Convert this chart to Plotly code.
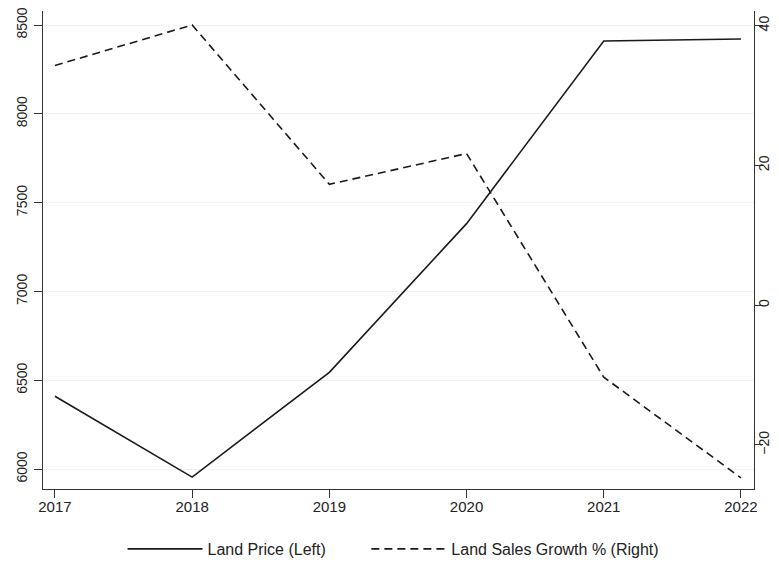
import plotly.graph_objects as go

years = [2017, 2018, 2019, 2020, 2021, 2022]
land_price = [6410, 5955, 6545, 7382, 8410, 8421]
sales_growth = [34.3, 40.1, 17.3, 21.7, -10.3, -24.7]
left_ticks = [6000, 6500, 7000, 7500, 8000, 8500]
right_ticks = [-20, 0, 20, 40]
series_names = ["Land Price (Left)", "Land Sales Growth % (Right)"]

pad = "\u00a0" * 8  # spacing between legend entries

fig = go.Figure()
fig.add_trace(go.Scatter(x=years, y=land_price, mode="lines", name=series_names[0] + pad,
                         line=dict(color="#1a1a1a", width=1.6), yaxis="y"))
fig.add_trace(go.Scatter(x=years, y=sales_growth, mode="lines", name=series_names[1],
                         line=dict(color="#1a1a1a", width=1.6, dash="8px,5px"), yaxis="y2"))

fam = "Liberation Sans, Arial, sans-serif"
fig.update_layout(
    width=771, height=555,
    margin=dict(l=35, r=25, t=3, b=74, autoexpand=False),
    plot_bgcolor="white", paper_bgcolor="white",
    font=dict(family=fam, size=14, color="#222"),
    showlegend=True,
    legend=dict(orientation="h", x=0.493, xanchor="center", y=-0.1255, yanchor="middle",
                font=dict(family=fam, size=16, color="#222"), traceorder="normal",
                itemwidth=75),
    xaxis=dict(range=[2016.913, 2022.095], tickvals=years, ticktext=[str(y) for y in years],
               showline=True, linecolor="#333", linewidth=1, ticks="outside", ticklen=8,
               tickcolor="#333", showgrid=False, zeroline=False, automargin=False,
               ticklabelstandoff=-4,
               tickfont=dict(family=fam, size=15, color="#222")),
    yaxis=dict(range=[5888, 8579], tickvals=left_ticks, tickangle=-90, automargin=False,
               showline=True, linecolor="#333", linewidth=1, ticks="outside", ticklen=8,
               tickcolor="#333", showgrid=True, gridcolor="#eef3f3", gridwidth=1, zeroline=False,
               ticklabeloverflow="allow", ticklabelstandoff=1,
               tickfont=dict(family=fam, size=14, color="#222")),
    yaxis2=dict(range=[-26.3, 42.1], tickvals=right_ticks, tickangle=-90, overlaying="y",
                side="right", showline=True, linecolor="#333", linewidth=1, ticks="outside",
                ticklen=8, tickcolor="#333", showgrid=False, zeroline=False, automargin=False,
                ticklabelstandoff=-11, ticklabeloverflow="allow",
                tickfont=dict(family=fam, size=14, color="#222")),
)

fig.write_html("out.html")
